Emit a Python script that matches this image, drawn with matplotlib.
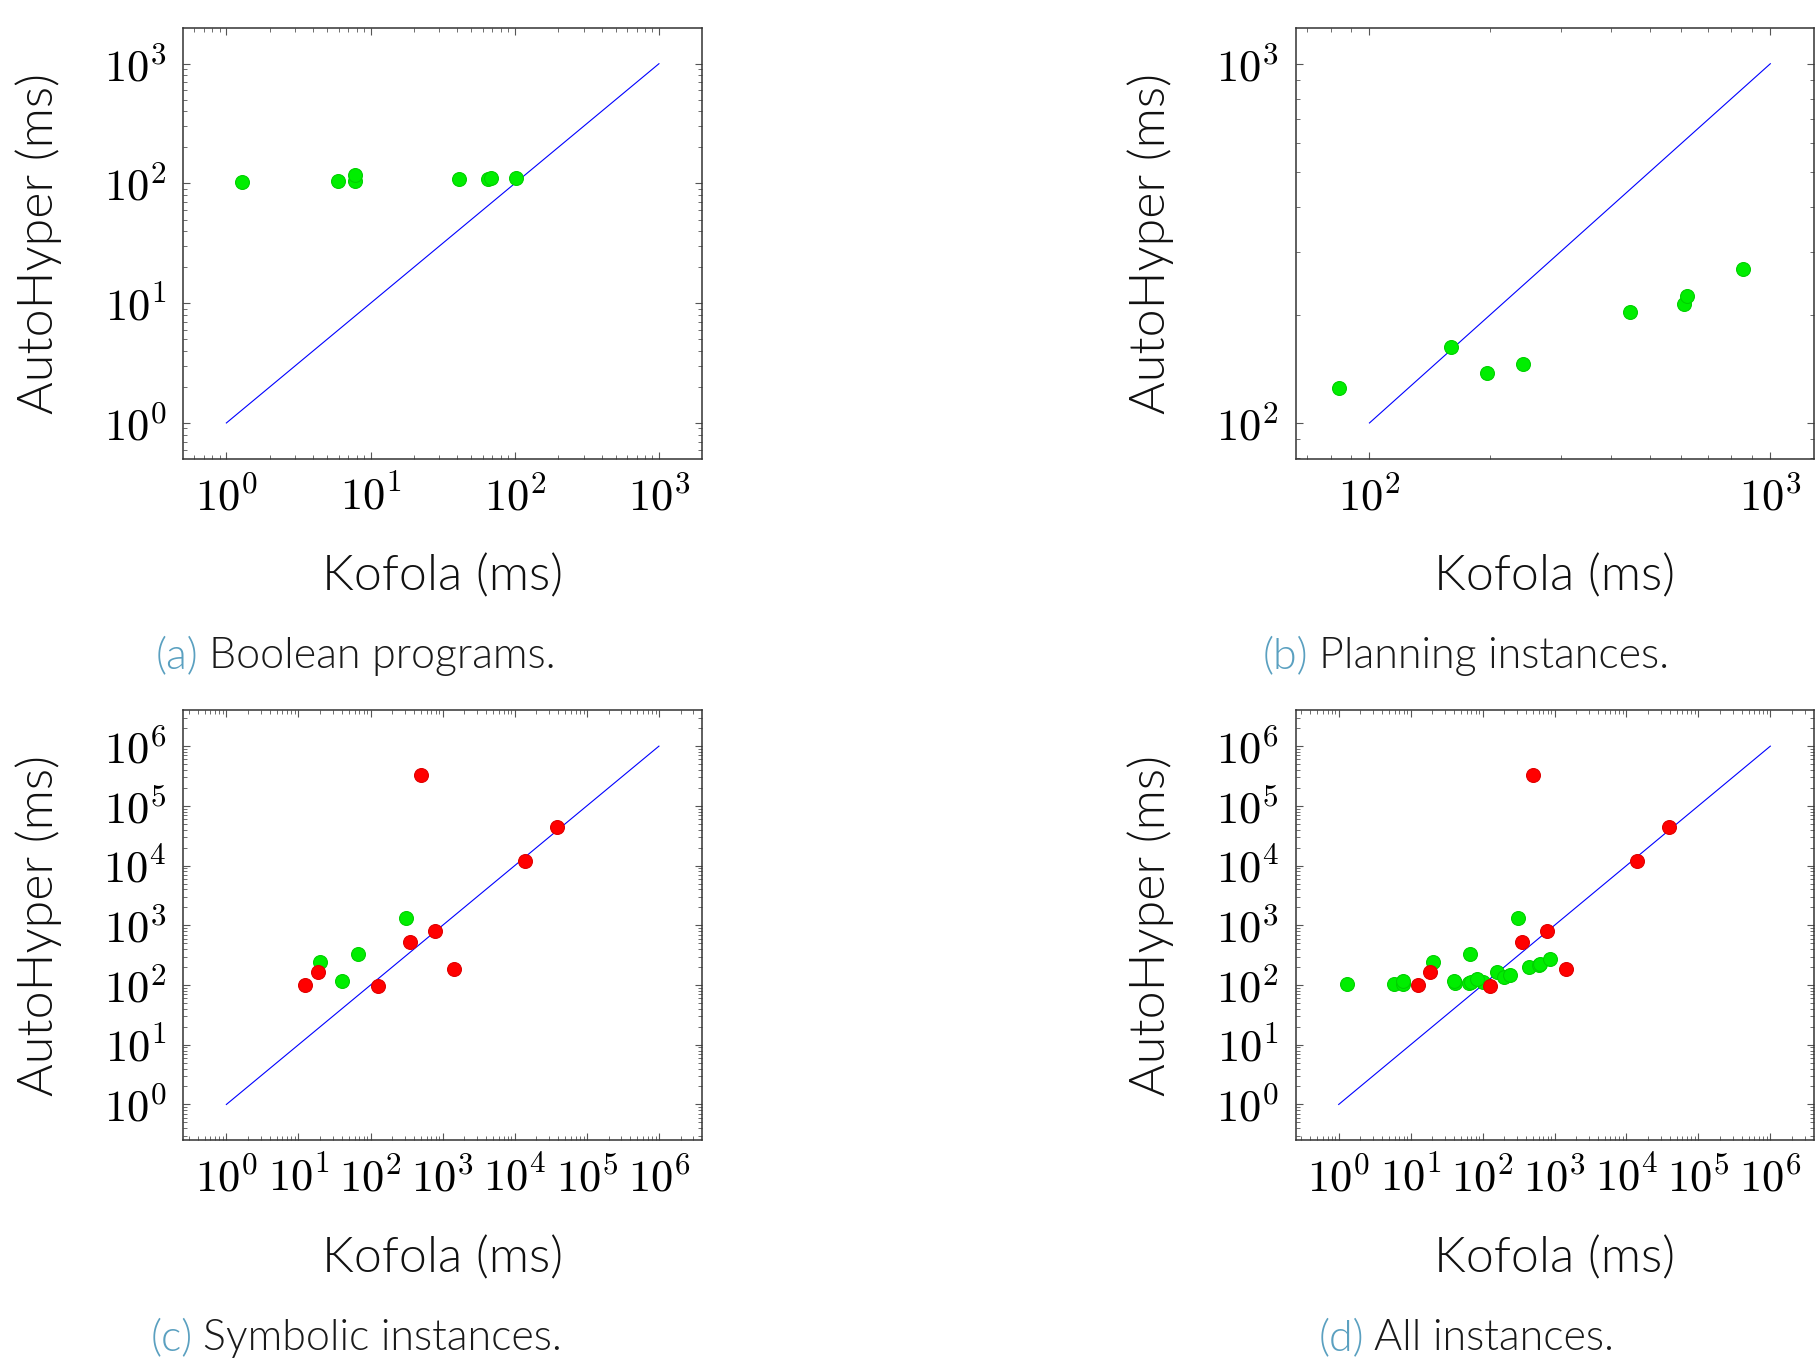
import numpy as np
import matplotlib
matplotlib.use('Agg')
import matplotlib.pyplot as plt
from matplotlib.ticker import LogLocator, FuncFormatter, NullFormatter

plt.rcParams['mathtext.fontset'] = 'cm'
plt.rcParams['font.family'] = ['Lato', 'DejaVu Sans']

# —–––– Data —––––
# (a) Boolean programs
bool_kofola = [1.29, 5.92, 7.75, 7.83, 41.1, 65.4, 68.0, 102.7]
bool_autohyper = [102.4, 105, 104.5, 117, 108, 109, 111, 110.5]

# (b) Planning instances
plan_kofola = [83.8, 159.3, 196.8, 242, 446.6, 610.6, 621, 857]
plan_autohyper = [124.9, 163, 138, 146, 203.7, 213.8, 226, 269]

# (c) Symbolic instances, green / red points
sym_green_kofola = [20.2, 39.7, 67.3, 311]
sym_green_autohyper = [239, 114.7, 329, 1318]
sym_red_kofola = [12.5, 18.5, 126, 357, 504, 778, 1426, 14030, 38830]
sym_red_autohyper = [102, 164, 97, 529, 331000, 809, 184.6, 11860, 43470]

# diagonal ranges
diag_a = [1, 1000]
diag_b = [100, 1000]
diag_cd = [1, 1e6]

captions = ['(a)', '(b)', '(c)', '(d)']
caption_text = ['Boolean programs.', 'Planning instances.',
                'Symbolic instances.', 'All instances.']

GREEN = '#00ee00'
GREEN_EDGE = '#00d000'
RED = '#ff0000'
RED_EDGE = '#e00000'
CAP_COLOR = '#5aa0c0'
LIGHT = 300

fig = plt.figure(figsize=(18.17, 13.61), dpi=100)

W, H = 1817, 1361
def box(l, t, r, b):
    return [l / W, 1 - b / H, (r - l) / W, (b - t) / H]

ax_a = fig.add_axes(box(183.1, 27.8, 702.2, 458.9))
ax_b = fig.add_axes(box(1295.5, 27.8, 1813.5, 458.9))
ax_c = fig.add_axes(box(183.1, 710.3, 702.2, 1140.3))
ax_d = fig.add_axes(box(1295.5, 710.3, 1813.5, 1140.3))


def decade_fmt(v, pos):
    return r'$10^{%d}$' % int(round(np.log10(v)))


def style(ax, lo, hi):
    ax.set_xscale('log')
    ax.set_yscale('log')
    span = np.log10(hi) - np.log10(lo)
    ax.set_xlim(10 ** (np.log10(lo) - 0.1 * span), 10 ** (np.log10(hi) + 0.1 * span))
    for axis in (ax.xaxis, ax.yaxis):
        axis.set_major_locator(LogLocator(base=10, numticks=100))
        axis.set_minor_locator(LogLocator(base=10, subs=np.arange(2, 10), numticks=100))
        axis.set_major_formatter(FuncFormatter(decade_fmt))
        axis.set_minor_formatter(NullFormatter())
    ax.tick_params(which='both', direction='in', top=True, right=True,
                   color='#555555', labelsize=32, pad=12)
    ax.tick_params(which='major', length=5, width=0.8)
    ax.tick_params(which='minor', length=3, width=0.6)
    for s in ax.spines.values():
        s.set_color('#333333')
        s.set_linewidth(1.1)
    ax.set_xlabel('Kofola (ms)', fontsize=36, fontweight=LIGHT, color='#111111')
    ax.set_ylabel('AutoHyper (ms)', fontsize=36, fontweight=LIGHT, color='#111111')
    ax.xaxis.set_label_coords(0.5, -0.275)
    ax.xaxis.label.set_va('center')
    ax.yaxis.set_label_coords(-0.279, 0.5)
    ax.yaxis.label.set_va('center')


def dots(ax, x, y, c, ec):
    ax.scatter(x, y, s=100, color=c, edgecolors=ec, linewidths=0.8, zorder=3,
               clip_on=False)


# (a)
ax_a.plot(diag_a, diag_a, color='#0000ff', lw=0.8)
dots(ax_a, bool_kofola, bool_autohyper, GREEN, GREEN_EDGE)
style(ax_a, 1, 1000)
ax_a.set_ylim(10 ** -0.3, 10 ** 3.3)

# (b)
ax_b.plot(diag_b, diag_b, color='#0000ff', lw=0.8)
dots(ax_b, plan_kofola, plan_autohyper, GREEN, GREEN_EDGE)
style(ax_b, min(plan_kofola), 1000)
ax_b.set_ylim(10 ** 1.9, 10 ** 3.1)

# (c)
ax_c.plot(diag_cd, diag_cd, color='#0000ff', lw=0.8)
dots(ax_c, sym_green_kofola, sym_green_autohyper, GREEN, GREEN_EDGE)
dots(ax_c, sym_red_kofola, sym_red_autohyper, RED, RED_EDGE)
style(ax_c, 1, 1e6)
ax_c.set_ylim(10 ** -0.6, 10 ** 6.6)

# (d) all instances
all_green_x = bool_kofola + plan_kofola + sym_green_kofola
all_green_y = bool_autohyper + plan_autohyper + sym_green_autohyper
ax_d.plot(diag_cd, diag_cd, color='#0000ff', lw=0.8)
dots(ax_d, all_green_x, all_green_y, GREEN, GREEN_EDGE)
dots(ax_d, sym_red_kofola, sym_red_autohyper, RED, RED_EDGE)
style(ax_d, 1, 1e6)
ax_d.set_ylim(10 ** -0.6, 10 ** 6.6)

# —–––– Captions —––––
cap_pos = [(156, 657), (1263, 657), (150.6, 1339), (1318.7, 1339)]
renderer = fig.canvas.get_renderer()
for (px, py), tag, txt in zip(cap_pos, captions, caption_text):
    t1 = fig.text(px / W, 1 - py / H, tag, fontsize=31, fontweight=LIGHT,
                  color=CAP_COLOR, ha='left', va='center')
    bb = t1.get_window_extent(renderer=renderer)
    x2 = (bb.x1 + 10) / W
    fig.text(x2, 1 - py / H, txt, fontsize=31, fontweight=LIGHT,
             color='#1a1a1a', ha='left', va='center')

fig.savefig('out.png', dpi=100)
